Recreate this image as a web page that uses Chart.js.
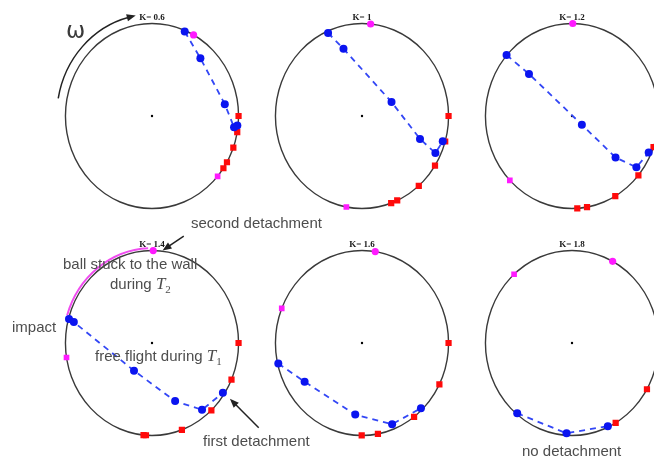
<!DOCTYPE html>
<html>
<head>
<meta charset="utf-8">
<script src="https://cdn.jsdelivr.net/npm/chart.js@4/dist/chart.umd.min.js"></script>
<style>
  html, body { margin: 0; padding: 0; background: #fff; }
  body { position: relative; width: 654px; height: 461px; overflow: hidden; font-family: "Liberation Sans", Arial, sans-serif; }
  canvas.panel { position: absolute; }
  .note { position: absolute; color: #4d4d4d; font-size: 15px; line-height: 15px; white-space: nowrap; z-index: 5; }
  .math { font-family: "Liberation Serif", "DejaVu Serif", serif; font-style: italic; font-size: 17px; }
  .sub { font-family: "Liberation Serif", serif; font-size: 11px; position: relative; top: 4px; }
  .omega { position: absolute; left: 66px; top: 17px; font-family: "DejaVu Sans", sans-serif; font-size: 23px; color: #3a3a3a; z-index: 5; }
</style>
</head>
<body>
<div class="omega">ω</div>
<div class="note" style="left:191px;top:215px">second detachment</div>
<div class="note" style="left:63px;top:256px">ball stuck to the wall</div>
<div class="note" style="left:110px;top:276px">during <span class="math">T</span><span class="sub">2</span></div>
<div class="note" style="left:12px;top:319px">impact</div>
<div class="note" style="left:95px;top:348px">free flight during <span class="math">T</span><span class="sub">1</span></div>
<div class="note" style="left:203px;top:433px">first detachment</div>
<div class="note" style="left:522px;top:443px">no detachment</div>
<script>
// Rotating drum, six values of K. Lengths are in drum radii, angles in degrees.
const kLabels = ['0.6', '1', '1.2', '1.4', '1.6', '1.8'];

// ball positions during free flight
const flightX = [
  [0.378, 0.559, 0.841, 0.948, 0.986],
  [-0.392, -0.214, 0.341, 0.670, 0.848, 0.933],
  [-0.756, -0.497, 0.114, 0.503, 0.744, 0.886],
  [-0.959, -0.903, -0.208, 0.267, 0.578, 0.819],
  [-0.967, -0.663, -0.078, 0.348, 0.681],
  [-0.633, -0.063, 0.414]
];
const flightY = [
  [0.913, 0.625, 0.128, -0.122, -0.104],
  [0.898, 0.727, 0.151, -0.248, -0.401, -0.273],
  [0.659, 0.455, -0.094, -0.448, -0.555, -0.396],
  [0.260, 0.226, -0.299, -0.628, -0.722, -0.539],
  [-0.222, -0.420, -0.774, -0.878, -0.705],
  [-0.760, -0.976, -0.899]
];

// ball resting on the wall
const stuckAngles = [
  [0, -10, -20, -30, -34.4],
  [0, -16, -32.5, -49, -66, -70.3],
  [-19.6, -39.9, -60, -80, -86.5],
  [0, -23.3, -46.7, -69.8, -94, -95.6],
  [0, -26.6, -53, -79.4, -90.2],
  [-30, -59.7]
];

// magenta wall markers
const pinkDotAngles = [61.3, 84.3, 89.5, 89.2, 81.2, 62];
const pinkSquareAngles = [-40.7, -100.4, 224.1, 189, 158, 132];

// contact arc for K = 1.4 (from, to)
const stuckArc = [92.5, 163];

const rad = d => d * Math.PI / 180;
const onWall = a => ({ x: Math.cos(rad(a)), y: Math.sin(rad(a)) });

function arrow(ctx, x0, y0, x1, y1) {
  const ang = Math.atan2(y1 - y0, x1 - x0), L = 9, Wd = 3.6;
  ctx.beginPath();
  ctx.moveTo(x0, y0);
  ctx.lineTo(x1 - L * 0.7 * Math.cos(ang), y1 - L * 0.7 * Math.sin(ang));
  ctx.stroke();
  ctx.beginPath();
  ctx.moveTo(x1, y1);
  ctx.lineTo(x1 - L * Math.cos(ang) + Wd * Math.sin(ang), y1 - L * Math.sin(ang) - Wd * Math.cos(ang));
  ctx.lineTo(x1 - L * Math.cos(ang) - Wd * Math.sin(ang), y1 - L * Math.sin(ang) + Wd * Math.cos(ang));
  ctx.closePath();
  ctx.fill();
}

const drumPlugin = {
  id: 'drum',
  beforeDatasetsDraw(chart, args, opts) {
    const { ctx, scales: { x, y } } = chart;
    const px = v => x.getPixelForValue(v), py = v => y.getPixelForValue(v);
    const cx = px(0), cy = py(0), rx = px(1) - cx, ry = cy - py(1);
    ctx.save();
    // drum wall
    ctx.strokeStyle = '#3a3a3a';
    ctx.lineWidth = 1.4;
    ctx.beginPath();
    ctx.ellipse(cx, cy, rx, ry, 0, 0, Math.PI * 2);
    ctx.stroke();
    // K label
    ctx.fillStyle = '#1a1a1a';
    ctx.font = 'bold 9px "Liberation Serif", serif';
    ctx.textAlign = 'center';
    ctx.textBaseline = 'middle';
    ctx.fillText('K= ' + opts.k, cx, cy - ry - 6);

    if (opts.arc) {
      ctx.strokeStyle = '#f04df0';
      ctx.lineWidth = 2;
      ctx.beginPath();
      ctx.ellipse(cx, cy, rx * 1.025, ry * 1.025, 0, -rad(opts.arc[1]), -rad(opts.arc[0]));
      ctx.stroke();
    }
    ctx.strokeStyle = '#222';
    ctx.fillStyle = '#222';
    ctx.lineWidth = 1.5;
    if (opts.spin) {
      // rotation direction arrow
      const r = 1.1, a0 = 170, a1 = 104;
      ctx.beginPath();
      ctx.ellipse(cx, cy, rx * r, ry * r, 0, -rad(a0), -rad(a1));
      ctx.stroke();
      const ex = cx + rx * r * Math.cos(rad(a1)), ey = cy - ry * r * Math.sin(rad(a1));
      const tx = rx * Math.sin(rad(a1)), ty = ry * Math.cos(rad(a1));
      const n = Math.hypot(tx, ty);
      arrow(ctx, ex - tx / n * 2, ey - ty / n * 2, ex + tx / n * 7, ey + ty / n * 7);
    }
    if (opts.pointers) {
      opts.pointers.forEach(p => arrow(ctx, px(p[0]), py(p[1]), px(p[2]), py(p[3])));
    }
    ctx.restore();
  }
};

const centersX = [152, 362, 572];
const centersY = [116, 343];
const RX = 90, RY = 96, CW = 230, CH = 240;

kLabels.forEach((k, i) => {
  const cx = centersX[i % 3], cy = centersY[Math.floor(i / 3)];
  const cv = document.createElement('canvas');
  cv.className = 'panel';
  cv.width = CW; cv.height = CH;
  cv.style.left = (cx - CW / 2) + 'px';
  cv.style.top = (cy - CH / 2) + 'px';
  document.body.appendChild(cv);

  const flight = flightX[i].map((v, j) => ({ x: v, y: flightY[i][j] }));
  const extra = { k: k };
  if (i === 0) extra.spin = true;
  if (i === 3) {
    extra.arc = stuckArc;
    extra.pointers = [[0.367, 1.156, 0.122, 1.0], [1.233, -0.917, 0.9, -0.604]];
  }

  new Chart(cv, {
    type: 'scatter',
    data: {
      datasets: [
        {
          data: flight, showLine: true, borderColor: '#3347f5', borderWidth: 1.8, borderDash: [6, 5],
          pointRadius: 4, pointBackgroundColor: '#0a14f0', pointBorderWidth: 0
        },
        {
          data: [onWall(pinkDotAngles[i])], pointRadius: 3.6, pointBackgroundColor: '#ff1aff', pointBorderWidth: 0
        },
        {
          data: [onWall(pinkSquareAngles[i])], pointStyle: 'rect', pointRadius: 4, pointBackgroundColor: '#ff1aff', pointBorderWidth: 0
        },
        {
          data: stuckAngles[i].map(onWall), pointStyle: 'rect', pointRadius: 4.4, pointBackgroundColor: '#ff0a0a', pointBorderWidth: 0
        },
        {
          data: [{ x: 0, y: 0 }], pointRadius: 1.2, pointBackgroundColor: '#000', pointBorderWidth: 0
        }
      ]
    },
    options: {
      responsive: false,
      animation: false,
      devicePixelRatio: 1,
      layout: { padding: 0 },
      scales: {
        x: { type: 'linear', display: false, min: -CW / 2 / RX, max: CW / 2 / RX },
        y: { type: 'linear', display: false, min: -CH / 2 / RY, max: CH / 2 / RY }
      },
      plugins: { legend: { display: false }, tooltip: { enabled: false }, drum: extra }
    },
    plugins: [drumPlugin]
  });
});
</script>
</body>
</html>
